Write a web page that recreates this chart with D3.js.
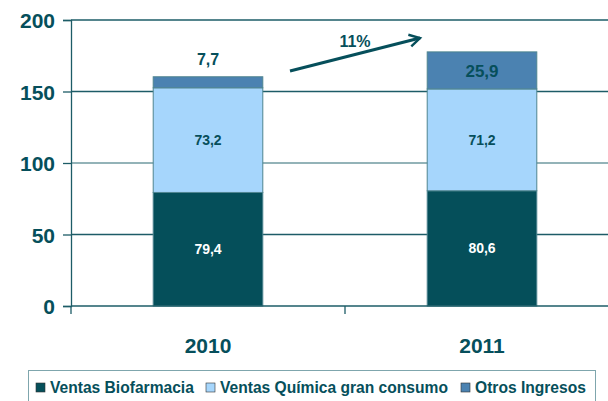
<!DOCTYPE html>
<html>
<head>
<meta charset="utf-8">
<script src="https://cdn.jsdelivr.net/npm/d3@7"></script>
<style>
  body { margin: 0; background: #fff; }
  svg { display: block; font-family: "Liberation Sans", Arial, sans-serif; font-weight: bold; }
</style>
</head>
<body>
<div id="chart"></div>
<script>
const years = ["2010", "2011"];
const seriesNames = ["Ventas Biofarmacia", "Ventas Química gran consumo", "Otros Ingresos"];
const biofarmacia = [79.4, 80.6];
const quimica = [73.2, 71.2];
const otros = [7.7, 25.9];
const yTicks = [0, 50, 100, 150, 200];
const growthLabel = "11%";

const width = 608, height = 401;
const margin = {left: 71, right: -11, top: 20, bottom: 95};
const teal = "#064f5b";
const colors = ["#054f5a", "#a6d6fc", "#4b82b1"];

const svg = d3.select("#chart").append("svg")
  .attr("width", width).attr("height", height);

const x = d3.scaleBand().domain(years)
  .range([margin.left, width - margin.right]).paddingInner(0.6).paddingOuter(0.3);
const y = d3.scaleLinear().domain([0, 200]).range([height - margin.bottom, margin.top]);

// gridlines
svg.append("g").selectAll("line").data(yTicks.filter(d => d > 0)).enter().append("line")
  .attr("x1", margin.left).attr("x2", width)
  .attr("y1", d => y(d)).attr("y2", d => y(d))
  .attr("stroke", d => d === 100 ? "#6f9aa1" : "#1d5c67").attr("stroke-width", 1.3);

// stacked data
const rows = years.map((yr, i) => ({year: yr, s0: biofarmacia[i], s1: quimica[i], s2: otros[i]}));
const stack = d3.stack().keys(["s0", "s1", "s2"])(rows);

const layers = svg.append("g").selectAll("g").data(stack).enter().append("g")
  .attr("fill", (d, i) => colors[i]);
layers.selectAll("rect").data(d => d).enter().append("rect")
  .attr("x", d => x(d.data.year))
  .attr("width", x.bandwidth())
  .attr("y", d => y(d[1]))
  .attr("height", d => y(d[0]) - y(d[1]))
  .attr("stroke", "#4f8590").attr("stroke-width", 1);

// y axis
const yAxis = svg.append("g").attr("transform", `translate(${margin.left},0)`)
  .call(d3.axisLeft(y).tickValues(yTicks).tickSize(8).tickPadding(8));
yAxis.select(".domain").attr("stroke", "#1d5c67").attr("stroke-width", 1.3);
yAxis.selectAll(".tick line").attr("stroke", "#1d5c67").attr("stroke-width", 1.3);
yAxis.selectAll("text").attr("fill", teal).style("font-size", "21px").style("font-weight", "bold")
  .attr("dy", "0.36em");

// x axis
const xAxisY = y(0);
const xEdges = [margin.left, (x("2010") + x.bandwidth() + x("2011")) / 2, width - margin.right];
svg.append("line").attr("x1", margin.left).attr("x2", width)
  .attr("y1", xAxisY).attr("y2", xAxisY).attr("stroke", "#1d5c67").attr("stroke-width", 1.3);
svg.append("g").selectAll("line").data(xEdges).enter().append("line")
  .attr("x1", d => d).attr("x2", d => d)
  .attr("y1", xAxisY).attr("y2", xAxisY + 8)
  .attr("stroke", "#1d5c67").attr("stroke-width", 1.3);
svg.append("g").selectAll("text").data(years).enter().append("text")
  .attr("x", d => x(d) + x.bandwidth() / 2).attr("y", xAxisY + 47)
  .attr("text-anchor", "middle").attr("fill", teal).style("font-size", "21px")
  .text(d => d);

// value labels
const fmt = v => d3.format(".1f")(v).replace(".", ",");
rows.forEach((r, i) => {
  const cx = x(r.year) + x.bandwidth() / 2;
  svg.append("text").attr("x", cx).attr("y", y(r.s0 / 2)).attr("dy", "0.36em")
    .attr("text-anchor", "middle").attr("fill", "#fff").style("font-size", "14px")
    .text(fmt(r.s0));
  svg.append("text").attr("x", cx).attr("y", y(r.s0 + r.s1 / 2)).attr("dy", "0.36em")
    .attr("text-anchor", "middle").attr("fill", teal).style("font-size", "14px")
    .text(fmt(r.s1));
  const top = r.s0 + r.s1 + r.s2;
  if (r.s2 < 15) {
    svg.append("text").attr("x", cx).attr("y", y(top) - 12)
      .attr("text-anchor", "middle").attr("fill", teal).style("font-size", "16px")
      .text(fmt(r.s2));
  } else {
    svg.append("text").attr("x", cx).attr("y", y(r.s0 + r.s1 + r.s2 / 2)).attr("dy", "0.36em")
      .attr("text-anchor", "middle").attr("fill", teal).style("font-size", "17px")
      .text(fmt(r.s2));
  }
});

// growth arrow
svg.append("defs").append("marker").attr("id", "arr")
  .attr("viewBox", "0 0 10 10").attr("refX", 8).attr("refY", 5)
  .attr("markerWidth", 5).attr("markerHeight", 5).attr("orient", "auto")
  .append("path").attr("d", "M1,1 L8,5 L1,9").attr("fill", "none")
  .attr("stroke", teal).attr("stroke-width", 1.6);
svg.append("line").attr("x1", 290).attr("y1", 71).attr("x2", 420).attr("y2", 38)
  .attr("stroke", teal).attr("stroke-width", 3).attr("marker-end", "url(#arr)");
svg.append("text").attr("x", 355).attr("y", 47).attr("text-anchor", "middle")
  .attr("fill", teal).style("font-size", "16px").text(growthLabel);

// legend
svg.append("rect").attr("x", 28.5).attr("y", 370.5).attr("width", 567).attr("height", 40)
  .attr("fill", "#fff").attr("stroke", "#7fa6ad").attr("stroke-width", 1);
const legendX = [36, 206, 461];
const lg = svg.append("g").selectAll("g").data(seriesNames).enter().append("g")
  .attr("transform", (d, i) => `translate(${legendX[i]},383)`);
lg.append("rect").attr("width", 9).attr("height", 9).attr("fill", (d, i) => colors[i])
  .attr("stroke", "#333").attr("stroke-width", 0.6);
lg.append("text").attr("x", 14).attr("y", 10).attr("fill", teal).style("font-size", "15.6px")
  .text(d => d);
</script>
</body>
</html>
